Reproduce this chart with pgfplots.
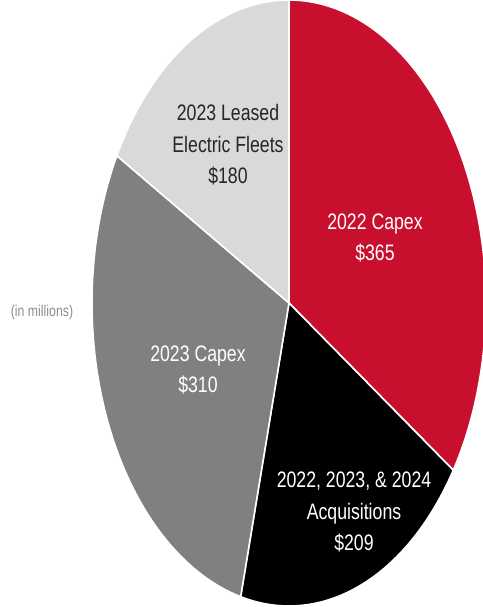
\documentclass[border=0pt]{standalone}
\usepackage{fontspec}
\setmainfont{Liberation Sans}[FakeStretch=0.79]
\usepackage{pgfplots}
\pgfplotsset{compat=1.18}
\definecolor{capred}{HTML}{C8102E}
\definecolor{midgray}{HTML}{808080}
\definecolor{lightgray}{HTML}{D9D9D9}
\definecolor{labgray}{HTML}{8C8C8C}
\begin{document}
\begin{tikzpicture}[x=1pt,y=1pt]
\clip (0,0) rectangle (241.5,303.5);
\path[use as bounding box] (0,0) rectangle (241.5,303.5);
% data (in millions)
\def\vA{365}\def\vB{209}\def\vC{310}\def\vD{180}
\pgfmathsetmacro{\tot}{\vA+\vB+\vC+\vD}
\pgfmathsetmacro{\aA}{\vA/\tot*360}
\pgfmathsetmacro{\aB}{\aA+\vB/\tot*360}
\pgfmathsetmacro{\aC}{\aB+\vC/\tot*360}
\begin{axis}[
  scale only axis, width=197pt, height=303pt,
  at={(144.5pt,152pt)}, anchor=center,
  xmin=-1, xmax=1, ymin=-1, ymax=1,
  hide axis, clip=false,
]
\addplot[fill=capred, draw=white, line width=0.8pt, domain=0:\aA, samples=120, variable=\t] ({sin(t)},{cos(t)}) -- (axis cs:0,0) -- cycle;
\addplot[fill=black, draw=white, line width=0.8pt, domain=\aA:\aB, samples=80, variable=\t] ({sin(t)},{cos(t)}) -- (axis cs:0,0) -- cycle;
\addplot[fill=midgray, draw=white, line width=0.8pt, domain=\aB:\aC, samples=100, variable=\t] ({sin(t)},{cos(t)}) -- (axis cs:0,0) -- cycle;
\addplot[fill=lightgray, draw=white, line width=0.8pt, domain=\aC:360, samples=70, variable=\t] ({sin(t)},{cos(t)}) -- (axis cs:0,0) -- cycle;
\end{axis}
\begin{scope}[every node/.style={align=center, font=\fontsize{11.2}{15.8}\selectfont}]
\node[text=black!85] at (114,231) {2023 Leased\\Electric Fleets\\\$180};
\node[text=white] at (187.5,184.5) {2022 Capex\\\$365};
\node[text=white] at (99,118.5) {2023 Capex\\\$310};
\node[text=white] at (177,47.5) {2022, 2023, \& 2024\\Acquisitions\\\$209};
\end{scope}
\node[text=labgray, font=\fontsize{7.8}{9}\selectfont] at (21,147.5) {(in millions)};
\end{tikzpicture}
\end{document}
